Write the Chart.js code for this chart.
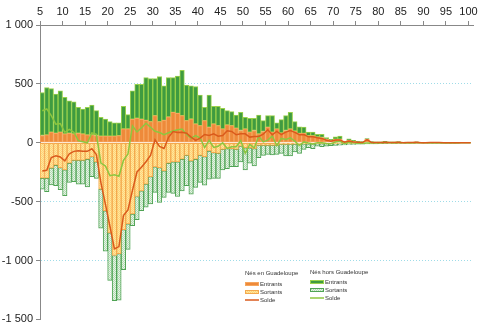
<!DOCTYPE html>
<html><head><meta charset="utf-8">
<script src="https://cdn.jsdelivr.net/npm/chart.js@4/dist/chart.umd.min.js"></script>
<style>html,body{margin:0;padding:0;background:#fff}#wrap{width:480px;height:329px;position:relative}</style>
</head><body><div id="wrap"><canvas id="c" width="480" height="329"></canvas></div>
<script>
const ages = [5,6,7,8,9,10,11,12,13,14,15,16,17,18,19,20,21,22,23,24,25,26,27,28,29,30,31,32,33,34,35,36,37,38,39,40,41,42,43,44,45,46,47,48,49,50,51,52,53,54,55,56,57,58,59,60,61,62,63,64,65,66,67,68,69,70,71,72,73,74,75,76,77,78,79,80,81,82,83,84,85,86,87,88,89,90,91,92,93,94,95,96,97,98,99,100];

const entrantsNG = [62,67,90,81,90,76,81,76,81,76,
67,67,62,56,56,56,56,60,118,118,
200,208,200,190,180,230,180,190,220,258,
250,230,188,202,160,146,188,132,160,146,
118,152,146,124,104,118,90,104,76,96,
132,90,118,84,104,118,100,80,80,60,
60,50,45,30,20,30,30,10,20,12,
8,6,30,6,5,5,6,4,5,6,
3,3,3,6,2,2,2,3,2,1,
1,0,0,0,0,0];

const sortantsNG = [-301,-301,-216,-191,-211,-230,-174,-149,-149,-149,
-140,-118,-163,-394,-577,-765,-957,-942,-737,-689,
-605,-456,-408,-351,-287,-205,-211,-239,-174,-163,
-163,-140,-107,-154,-140,-107,-118,-70,-84,-90,
-56,-50,-50,-56,-28,-42,-42,-50,-22,-22,
-22,-22,-22,-14,-14,-14,-12,-12,-10,-10,
-10,-8,-8,-8,-7,-7,-6,-6,-5,-5,
-4,-4,-4,-3,-3,-3,-2,-2,-2,-2,
-2,-1,-1,-1,-1,-1,0,0,0,0,
0,0,0,0,0,0];

const soldeNG = [-239,-234,-126,-110,-121,-154,-93,-73,-68,-73,
-73,-51,-101,-338,-521,-709,-901,-882,-619,-571,
-405,-248,-208,-161,-107,25,-31,-49,46,95,
87,90,81,48,20,39,70,62,76,56,
62,102,96,68,76,76,48,54,54,74,
110,68,96,70,90,104,88,68,70,50,
50,42,37,22,13,23,24,4,15,7,
4,2,26,3,2,2,4,2,3,4,
1,2,2,5,1,1,2,3,2,1,
1,0,0,0,0,0];

const entrantsHG = [365,402,371,332,351,309,276,272,220,211,
234,253,211,160,146,124,113,110,191,121,
241,289,297,363,365,315,382,293,333,295,
317,385,301,281,318,259,113,273,149,163,
174,121,118,112,154,98,118,104,160,92,
98,140,51,113,126,140,80,55,53,30,
30,21,26,13,10,21,27,5,14,8,
4,4,5,4,3,3,6,4,3,4,
3,2,2,2,2,2,1,1,1,1,
0,1,0,0,0,0];

const sortantsHG = [-93,-115,-141,-174,-188,-220,-163,-182,-202,-202,
-234,-169,-140,-332,-343,-403,-385,-394,-341,-217,
-98,-197,-169,-197,-233,-217,-295,-225,-248,-267,
-293,-268,-258,-282,-239,-230,-242,-239,-219,-213,
-174,-169,-152,-146,-135,-188,-132,-147,-104,-85,
-76,-82,-76,-76,-98,-98,-66,-78,-46,-32,
-40,-20,-25,-20,-18,-15,-14,-12,-10,-9,
-8,-8,-6,-7,-6,-5,-5,-4,-4,-3,
-3,-3,-3,-2,-2,-2,-2,-2,-2,-1,
-1,-1,-1,0,0,0];

const soldeHG = [272,287,230,158,163,89,113,90,18,9,
0,84,71,-172,-197,-279,-272,-284,-150,-96,
143,92,128,166,132,98,87,68,85,100,
110,117,70,40,60,40,-40,20,-40,-30,
0,-48,-34,-34,19,-90,-14,-43,56,7,
22,58,-25,37,28,42,14,-23,7,-2,
-10,1,1,-7,-8,6,13,-7,4,-1,
-4,-4,-1,-3,-3,-2,1,0,-1,1,
0,-1,-1,0,0,0,-1,-1,-1,0,
-1,0,-1,0,0,0];

const xTickLabels = [5,10,15,20,25,30,35,40,45,50,55,60,65,70,75,80,85,90,95,100];
const yTickLabels = [1000,500,0,-500,-1000,-1500];

function pts(arr){ return ages.map((a,i)=>({x:a+0.5, y:arr[i]})); }

function makePattern(c1, c2){
  const p = document.createElement('canvas'); p.width = 2; p.height = 2;
  const g = p.getContext('2d');
  g.fillStyle = c1; g.fillRect(0,0,2,2);
  g.fillStyle = c2; g.fillRect(0,0,1,1); g.fillRect(1,1,1,1);
  return document.getElementById('c').getContext('2d').createPattern(p,'repeat');
}
const yellowPat = makePattern('#FFE6A0', '#FFD475');
const greenPat = makePattern('#E6F4E6', '#B3DAB3');

const C = {
  orange:'#EE8A3A', orangeB:'#F5A65E',
  yellowB:'#F3A94E',
  green:'#3F9B40', greenB:'#9AD24A',
  hatchB:'#4FA354',
  lineNG:'#DA5A1C', lineHG:'#8DC63F'
};

function fmt(v){
  const s = Math.abs(v);
  let t = s >= 1000 ? Math.floor(s/1000) + ' ' + String(s%1000).padStart(3,'0') : String(s);
  return (v<0?'-':'') + t;
}

const legendPlugin = {
  id:'legendBox',
  afterDraw(chart){
    const ctx = chart.ctx;
    ctx.save();
    ctx.font = '6px "Liberation Sans", Arial, sans-serif';
    ctx.fillStyle = '#333';
    ctx.textBaseline = 'middle';
    const cols = [
      {x:245, title:'Nés en Guadeloupe', items:[
        {t:'Entrants', kind:'bar', fill:C.orange, stroke:C.orangeB},
        {t:'Sortants', kind:'bar', fill:yellowPat, stroke:C.yellowB},
        {t:'Solde', kind:'line', stroke:C.lineNG}]},
      {x:310, title:'Nés hors Guadeloupe', items:[
        {t:'Entrants', kind:'bar', fill:C.green, stroke:C.greenB},
        {t:'Sortants', kind:'bar', fill:greenPat, stroke:C.hatchB},
        {t:'Solde', kind:'line', stroke:C.lineHG}]}
    ];
    const ys = [[273,284,292,300],[272,282,290,298]];
    cols.forEach((col,ci)=>{
      ctx.fillStyle = '#333';
      ctx.fillText(col.title, col.x, ys[ci][0]);
      col.items.forEach((it,k)=>{
        const y = ys[ci][k+1];
        if (it.kind==='bar'){
          ctx.fillStyle = it.fill; ctx.fillRect(col.x, y-2, 14, 4);
          ctx.strokeStyle = it.stroke; ctx.lineWidth = 1; ctx.strokeRect(col.x+0.5, y-1.5, 13, 3);
        } else {
          ctx.strokeStyle = it.stroke; ctx.lineWidth = 1.5;
          ctx.beginPath(); ctx.moveTo(col.x, y); ctx.lineTo(col.x+14, y); ctx.stroke();
        }
        ctx.fillStyle = '#333';
        ctx.fillText(it.t, col.x+15, y);
      });
    });
    ctx.restore();
  }
};

const barCommon = {type:'bar', stack:'bars', order:2, barPercentage:1, categoryPercentage:1, borderWidth:1, borderSkipped:false};

new Chart(document.getElementById('c'), {
  data:{
    datasets:[
      Object.assign({label:'Entrants NG', data:pts(entrantsNG), backgroundColor:C.orange, borderColor:C.orangeB}, barCommon),
      Object.assign({label:'Entrants HG', data:pts(entrantsHG), backgroundColor:C.green, borderColor:C.greenB}, barCommon),
      Object.assign({label:'Sortants NG', data:pts(sortantsNG), backgroundColor:yellowPat, borderColor:C.yellowB}, barCommon),
      Object.assign({label:'Sortants HG', data:pts(sortantsHG), backgroundColor:greenPat, borderColor:C.hatchB}, barCommon),
      {type:'line', label:'Solde NG', stack:'l1', order:0, data:pts(soldeNG), borderColor:C.lineNG, borderWidth:1.5, pointRadius:0, tension:0, fill:false},
      {type:'line', label:'Solde HG', stack:'l2', order:1, data:pts(soldeHG), borderColor:C.lineHG, borderWidth:1.5, pointRadius:0, tension:0, fill:false}
    ]
  },
  options:{
    responsive:false, animation:false, devicePixelRatio:1,
    layout:{padding:{top:0,right:7,bottom:8,left:0}},
    plugins:{legend:{display:false}, tooltip:{enabled:false}},
    scales:{
      x:{type:'linear', position:'top', min:5, max:101, stacked:true, offset:false,
        afterFit(s){ s.height = 25; },
        afterBuildTicks(s){ s.ticks = xTickLabels.map(v=>({value:v})); },
        ticks:{font:{family:'"Liberation Sans", Arial, sans-serif', size:11}, color:'#222', padding:2, maxRotation:0, autoSkip:false,
          callback:(v)=> String(v)},
        grid:{drawOnChartArea:false, drawTicks:true, tickLength:4, color:'#888', offset:false},
        border:{color:'#888', width:1}
      },
      y:{type:'linear', min:-1500, max:1000, stacked:true,
        afterFit(s){ s.width = 40; },
        afterBuildTicks(s){ s.ticks = yTickLabels.map(v=>({value:v})); },
        ticks:{font:{family:'"Liberation Sans", Arial, sans-serif', size:11}, color:'#222', padding:3, callback:(v)=>fmt(v)},
        grid:{drawTicks:true, tickLength:4, color:(c)=> (c.tick && (c.tick.value===500||c.tick.value===-500||c.tick.value===-1000)) ? '#9FDCE8' : 'rgba(0,0,0,0)',
          tickColor:'#888', lineWidth:1},
        border:{color:'#888', width:1, dash:[1,2]}
      }
    }
  },
  plugins:[legendPlugin]
});
</script>
</body></html>
